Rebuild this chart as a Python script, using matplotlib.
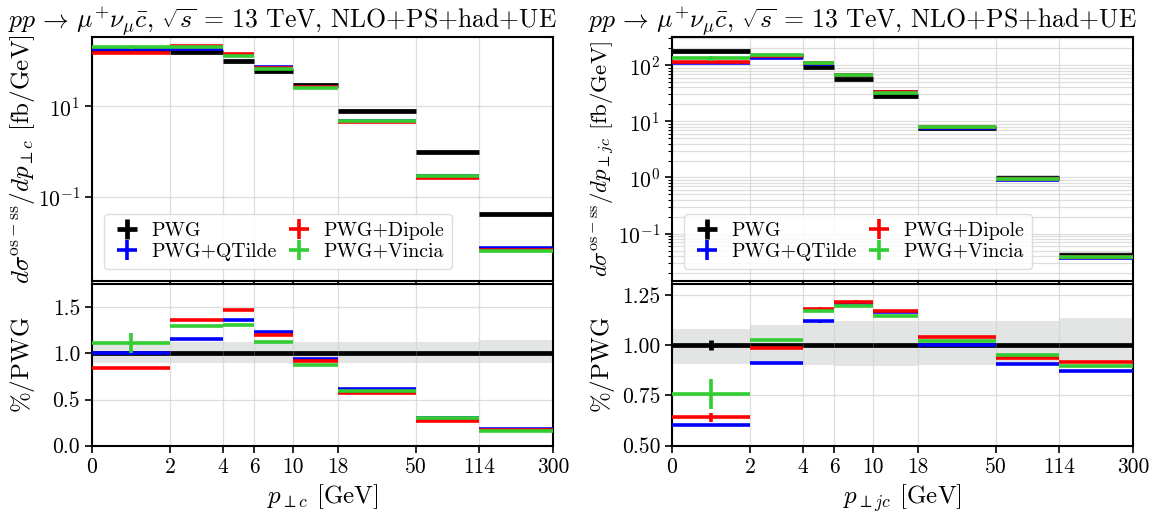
import numpy as np
import matplotlib
matplotlib.use("Agg")
from matplotlib import pyplot as plt
from matplotlib.ticker import FixedLocator, FixedFormatter, NullLocator, LogLocator

plt.rcParams.update({
    "font.family": "serif",
    "font.serif": ["cmr10"],
    "mathtext.fontset": "cm",
    "axes.formatter.use_mathtext": True,
    "axes.linewidth": 1.5,
})

# bins and series
edges = [0, 2, 4, 6, 10, 18, 50, 114, 300]
edge_labels = ["0", "2", "4", "6", "10", "18", "50", "114", "300"]
names = ["PWG", "PWG+QTilde", "PWG+Dipole", "PWG+Vincia"]
colors = ["black", "#0000ff", "#ff0000", "#32cd32"]

# left panel: p_perp c
pwg_c = [178, 156, 96, 57.8, 28.5, 7.76, 0.975, 0.0416]
qtilde_c = [1.005, 1.15, 1.36, 1.232, 0.938, 0.615, 0.295, 0.181]
dipole_c = [0.84, 1.355, 1.47, 1.203, 0.913, 0.57, 0.272, 0.165]
vincia_c = [1.11, 1.297, 1.304, 1.127, 0.873, 0.59, 0.297, 0.159]
band_lo_c = [0.895, 0.895, 0.895, 0.895, 0.895, 0.895, 0.895, 0.895]
band_hi_c = [1.125, 1.125, 1.125, 1.125, 1.125, 1.125, 1.125, 1.14]
relerr_c = [
    [0.01, 0.005, 0.005, 0.005, 0.005, 0.005, 0.005, 0.005],
    [0.02, 0.005, 0.005, 0.005, 0.005, 0.005, 0.005, 0.005],
    [0.01, 0.005, 0.005, 0.005, 0.005, 0.005, 0.005, 0.005],
    [0.095, 0.005, 0.005, 0.005, 0.005, 0.005, 0.005, 0.005],
]

# right panel: p_perp jc
pwg_jc = [177, 147, 93.4, 55.6, 28.1, 7.6, 0.99, 0.0423]
qtilde_jc = [0.603, 0.914, 1.119, 1.212, 1.165, 1.003, 0.907, 0.873]
dipole_jc = [0.642, 0.987, 1.182, 1.217, 1.172, 1.040, 0.935, 0.916]
vincia_jc = [0.757, 1.025, 1.169, 1.197, 1.144, 1.020, 0.950, 0.896]
band_lo_jc = [0.907, 0.904, 0.90, 0.897, 0.897, 0.90, 0.904, 0.924]
band_hi_jc = [1.083, 1.103, 1.123, 1.123, 1.123, 1.123, 1.119, 1.136]
relerr_jc = [
    [0.026, 0.005, 0.005, 0.005, 0.005, 0.005, 0.005, 0.005],
    [0.01, 0.005, 0.008, 0.005, 0.005, 0.005, 0.005, 0.005],
    [0.035, 0.005, 0.008, 0.005, 0.005, 0.005, 0.005, 0.005],
    [0.10, 0.005, 0.005, 0.005, 0.005, 0.005, 0.005, 0.005],
]

title = r"$pp\,\to\,\mu^{+}\nu_{\mu}\bar{c}$, $\sqrt{s}\,=\,13$ TeV, NLO+PS+had+UE"

fig = plt.figure(figsize=(11.58, 5.19), dpi=100)


def draw_panel(x0, pwg, ratios, band_lo, band_hi, relerr, ylim, rlim, rticks,
               rfmt, ylab, ylab_size, xlab, minor_grid):
    w = 0.398
    ax = fig.add_axes([x0, 0.4586, w, 0.4694])
    axr = fig.add_axes([x0, 0.1412, w, 0.3116])
    e = np.array(edges, dtype=float)
    cen = 0.5 * (e[:-1] + e[1:])
    hw = 0.5 * (e[1:] - e[:-1])
    pwg = np.array(pwg)
    lo = np.array(band_lo)
    hi = np.array(band_hi)

    # uncertainty bands
    ax.stairs(pwg * hi, e, baseline=pwg * lo, fill=True, color="#bfc3c3", alpha=0.8, zorder=1)
    axr.stairs(hi, e, baseline=lo, fill=True, color="#e3e5e5", zorder=1)

    allr = [np.ones(len(pwg))] + [np.array(r) for r in ratios]
    for i, (r, name, c) in enumerate(zip(allr, names, colors)):
        lw = 3.4 if i == 0 else 2.6
        y = pwg * r
        ax.errorbar(cen, y, xerr=hw, yerr=y * np.array(relerr[i]), fmt="none",
                    ecolor=c, elinewidth=lw, capsize=0, label=name, zorder=3 + i)
        axr.errorbar(cen, r, xerr=hw, yerr=r * np.array(relerr[i]), fmt="none",
                     ecolor=c, elinewidth=lw, capsize=0, zorder=3 + i)

    for a in (ax, axr):
        a.set_xscale("symlog", linthresh=2, linscale=0.4)
        a.set_xlim(0, 300)
        a.xaxis.set_major_locator(FixedLocator(edges))
        a.xaxis.set_minor_locator(NullLocator())
        a.tick_params(direction="out", length=5, width=1.2, labelsize=15.5)
        a.tick_params(which="minor", direction="out", length=3, width=0.8)
    ax.set_xticklabels([])
    axr.xaxis.set_major_formatter(FixedFormatter(edge_labels))

    ax.set_yscale("log")
    ax.set_ylim(*ylim)
    if minor_grid:
        ax.yaxis.set_major_locator(LogLocator(base=10, numticks=10))
        ax.yaxis.set_minor_locator(LogLocator(base=10, subs=np.arange(2, 10), numticks=20))
        ax.grid(True, which="both", axis="y", color="#d0d0d0", lw=0.9, alpha=0.7)
    else:
        ax.yaxis.set_major_locator(FixedLocator([0.1, 10]))
        ax.yaxis.set_minor_locator(NullLocator())
        ax.grid(True, which="major", axis="y", color="#d0d0d0", lw=0.9, alpha=0.7)
    ax.grid(True, which="major", axis="x", color="#d0d0d0", lw=0.9, alpha=0.7)

    axr.set_ylim(*rlim)
    axr.set_yticks(rticks)
    axr.set_yticklabels([rfmt % t for t in rticks])
    axr.grid(True, which="major", color="#d0d0d0", lw=0.9, alpha=0.7)

    ax.set_ylabel(ylab, fontsize=ylab_size)
    axr.set_ylabel(r"$\%$/PWG", fontsize=18)
    ax.yaxis.set_label_coords(-0.12, 0.5)
    axr.yaxis.set_label_coords(-0.12, 0.5)
    axr.set_xlabel(xlab, fontsize=18, labelpad=4)

    ax.legend(loc="lower left", ncol=2, fontsize=14.3, columnspacing=0.35,
              handletextpad=0.5, labelspacing=0.15, handlelength=1.5,
              borderaxespad=0.6, borderpad=0.4, framealpha=0.85, edgecolor="#d8d8d8")
    return ax, axr


draw_panel(0.0794, pwg_c, [qtilde_c, dipole_c, vincia_c], band_lo_c, band_hi_c,
           relerr_c, (10 ** -2.846, 10 ** 2.51), (0, 1.75), [0.0, 0.5, 1.0, 1.5],
           "%.1f", r"$d\sigma^{\rm os-ss}/dp_{\perp c}$ [fb/GeV]", 18,
           r"$p_{\perp c}$ [GeV]", False)
draw_panel(0.5803, pwg_jc, [qtilde_jc, dipole_jc, vincia_jc], band_lo_jc, band_hi_jc,
           relerr_jc, (10 ** -1.842, 10 ** 2.493), (0.5, 1.305), [0.5, 0.75, 1.0, 1.25],
           "%.2f", r"$d\sigma^{\rm os-ss}/dp_{\perp jc}$ [fb/GeV]", 16.5,
           r"$p_{\perp jc}$ [GeV]", True)

fig.text(8 / 1158, 1 - 27.7 / 519, title, fontsize=18.5, ha="left", va="baseline")
fig.text(588 / 1158, 1 - 27.7 / 519, title, fontsize=18.5, ha="left", va="baseline")

fig.savefig("out.png", dpi=100)
